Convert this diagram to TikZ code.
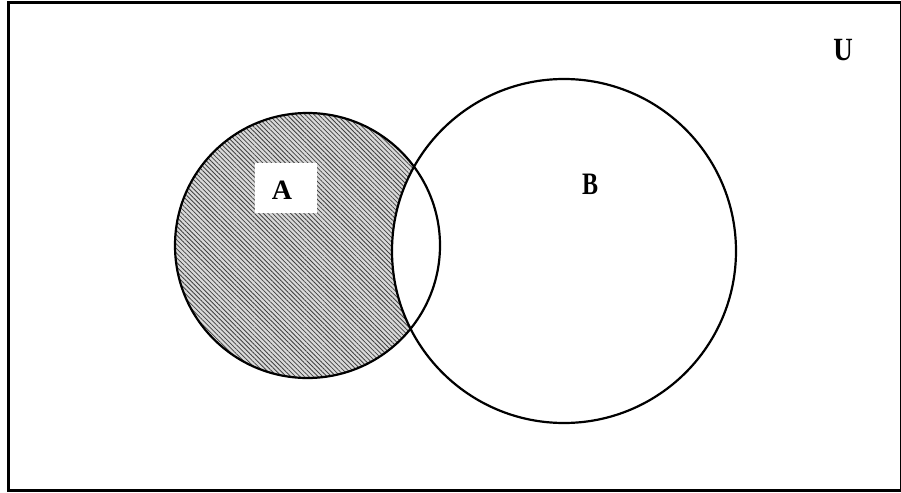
\documentclass[tikz,border=0pt]{standalone}
\usepackage{fontspec}
\setmainfont{Liberation Serif}
\usetikzlibrary{patterns.meta}
\begin{document}
\begin{tikzpicture}[x=0.5pt,y=-0.5pt,
  frame/.style={line width=1.5pt},
  setline/.style={line width=1.1pt},
  hatch/.style={pattern={Lines[angle=-45,distance=1.6pt,line width=0.4pt]},pattern color=black!75},
  lbl/.style={inner sep=0pt}]
\useasboundingbox (0,0) rectangle (901,493);
\coordinate (cA) at (307.5,245.5);
\coordinate (cB) at (564,251);
\node[frame,draw,minimum width=446.5pt,minimum height=244pt,inner sep=0pt,anchor=north west] (U) at (7,1) {};
% shaded A minus B
\fill[gray!30] (cA) circle [radius=132.5];
\fill[hatch] (cA) circle [radius=132.5];
\fill[white] (cB) circle [radius=172];
\draw[setline] (cA) circle [radius=132.5];
\draw[setline] (cB) circle [radius=172];
\node[fill=white,minimum width=31pt,minimum height=25pt,inner sep=0pt] (boxA) at (286,188) {};
\node[lbl,font=\bfseries\fontsize{14}{16}\selectfont] (la) at (282,190) {A};
\node[lbl,font=\bfseries\fontsize{12}{14}\selectfont] (lb) at (590,184.5) {\scalebox{1}[1.3]{B}};
\node[lbl,font=\bfseries\fontsize{13.5}{15}\selectfont] (lu) at (843,50) {\scalebox{1}[1.2]{U}};
\end{tikzpicture}
\end{document}
